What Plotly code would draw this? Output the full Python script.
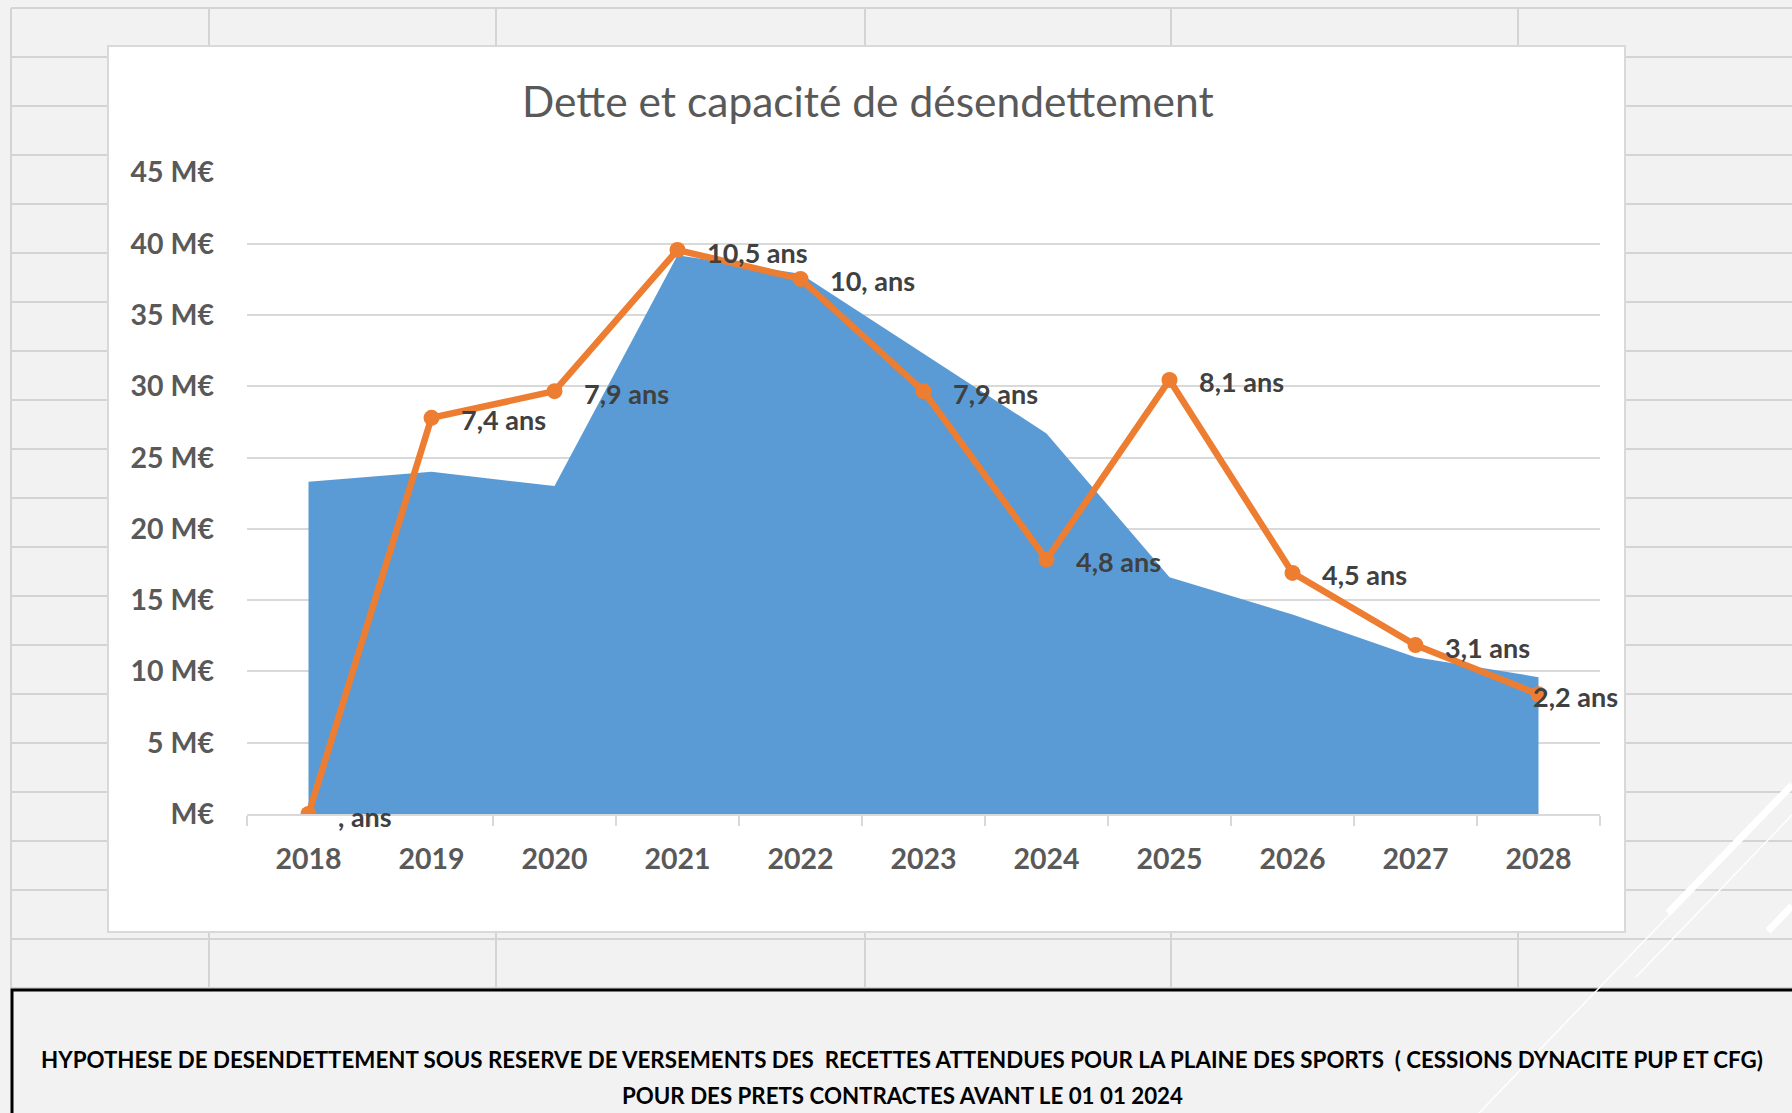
import plotly.graph_objects as go

# ---------------- data ----------------
years = ["2018", "2019", "2020", "2021", "2022", "2023", "2024", "2025", "2026", "2027", "2028"]
dette = [23.3, 24.0, 23.0, 39.2, 37.9, 32.3, 26.7, 16.6, 14.0, 11.0, 9.6]          # M€
capacite = [0.0, 7.41, 7.91, 10.55, 10.01, 7.91, 4.76, 8.12, 4.51, 3.16, 2.24]     # années
capacite_labels = [", ans", "7,4 ans", "7,9 ans", "10,5 ans", "10, ans", "7,9 ans",
                   "4,8 ans", "8,1 ans", "4,5 ans", "3,1 ans", "2,2 ans"]
y_ticks = [0, 5, 10, 15, 20, 25, 30, 35, 40, 45]
title_text = "Dette et capacité de désendettement"
note_lines = [
    "HYPOTHESE DE DESENDETTEMENT SOUS RESERVE DE VERSEMENTS DES  RECETTES ATTENDUES POUR LA PLAINE DES SPORTS  ( CESSIONS DYNACITE PUP ET CFG)",
    "POUR DES PRETS CONTRACTES AVANT LE 01 01 2024",
]

W, H = 1792, 1113
def px(x):
    return x / W
def py(y):
    return 1 - y / H

FONT = "Lato, 'Open Sans', sans-serif"
AXIS_GREY = "#595959"
GRID = "#d9d9d9"
SHEET_LINE = "#d4d4d4"

fig = go.Figure()

fig.add_trace(go.Scatter(
    x=years, y=dette, mode="lines", fill="tozeroy",
    line=dict(color="#5B9BD5", width=0), fillcolor="#5B9BD5",
    name="Dette", hoverinfo="x+y", showlegend=False, yaxis="y",
))
fig.add_trace(go.Scatter(
    x=years, y=capacite, mode="lines+markers",
    line=dict(color="#ED7D31", width=6.5),
    marker=dict(color="#ED7D31", size=16),
    name="Capacité de désendettement", showlegend=False, yaxis="y2",
))

# data labels (x given as category index)
for i, (v, t) in enumerate(zip(capacite, capacite_labels)):
    shift = 27 if i < len(years) - 1 else -8
    fig.add_annotation(
        x=i, y=v, xref="x", yref="y2", text=t, showarrow=False,
        xanchor="left", yanchor="middle", xshift=shift, yshift=-2,
        font=dict(family=FONT, size=27, color="#404040", weight="bold"),
    )

shapes = []
# spreadsheet grid behind the chart
for k in range(21):
    y = 8 + 49 * k
    shapes.append(dict(type="line", xref="paper", yref="paper", x0=px(11), x1=1,
                       y0=py(y), y1=py(y), line=dict(color=SHEET_LINE, width=2), layer="below"))
for x in [11, 209, 496, 865, 1171, 1518]:
    shapes.append(dict(type="line", xref="paper", yref="paper", x0=px(x), x1=px(x),
                       y0=py(8), y1=py(989), line=dict(color=SHEET_LINE, width=2), layer="below"))
# chart area (white)
shapes.append(dict(type="rect", xref="paper", yref="paper", x0=px(108), x1=px(1625),
                   y0=py(46), y1=py(932), fillcolor="white",
                   line=dict(color=GRID, width=2), layer="below"))
# bottom note box
shapes.append(dict(type="rect", xref="paper", yref="paper", x0=px(12), x1=px(1798),
                   y0=py(990), y1=py(1118), fillcolor="#f2f2f2",
                   line=dict(color="black", width=3), layer="above"))
# decorative diagonal lines (slide background)
for (x0, y0, x1, y1, w) in [(1668, 913, 1792, 785, 7), (1768, 931, 1792, 906, 7),
                            (1636, 977, 1792, 815, 1.5), (1479, 1113, 1792, 787, 1.5)]:
    shapes.append(dict(type="line", xref="paper", yref="paper", x0=px(x0), y0=py(y0),
                       x1=px(x1), y1=py(y1), line=dict(color="white", width=w), layer="above"))

fig.update_layout(shapes=shapes)

fig.add_annotation(x=px(868), y=py(100), xref="paper", yref="paper", text=title_text,
                   showarrow=False, xanchor="center", yanchor="middle",
                   font=dict(family=FONT, size=42.5, color=AXIS_GREY))
for txt, yy in zip(note_lines, [1059, 1095]):
    fig.add_annotation(x=px(902), y=py(yy), xref="paper", yref="paper", text=txt,
                       showarrow=False, xanchor="center", yanchor="middle",
                       font=dict(family=FONT, size=22.3, color="black", weight="bold"))

fig.update_layout(
    width=W, height=H,
    margin=dict(l=0, r=0, t=0, b=0, pad=0, autoexpand=False),
    paper_bgcolor="#f2f2f2", plot_bgcolor="rgba(0,0,0,0)",
    xaxis=dict(
        domain=[px(247), px(1600)], type="category", range=[-0.5, 10.5], automargin=False,
        showline=True, linecolor=GRID, linewidth=2,
        ticks="outside", tickson="boundaries", ticklen=10, tickcolor=GRID, tickwidth=2,
        showgrid=False, ticklabelstandoff=19, tickangle=0,
        tickfont=dict(family=FONT, size=28.5, color=AXIS_GREY, weight="bold"),
    ),
    yaxis=dict(
        domain=[py(814), py(172.5)], range=[0, 45], automargin=False,
        tickvals=y_ticks,
        ticktext=["M€" if v == 0 else f"{v} M€" for v in y_ticks],
        showgrid=True, gridcolor=GRID, gridwidth=2,
        zeroline=False, showline=False, ticklabelstandoff=32,
        tickfont=dict(family=FONT, size=28.5, color=AXIS_GREY, weight="bold"),
    ),
    yaxis2=dict(overlaying="y", range=[0, 12], visible=False),
)

fig.write_html(
    "out.html",
    config={"displayModeBar": False},
    post_script="document.body.style.margin='0px';document.body.style.background='#f2f2f2';",
)
